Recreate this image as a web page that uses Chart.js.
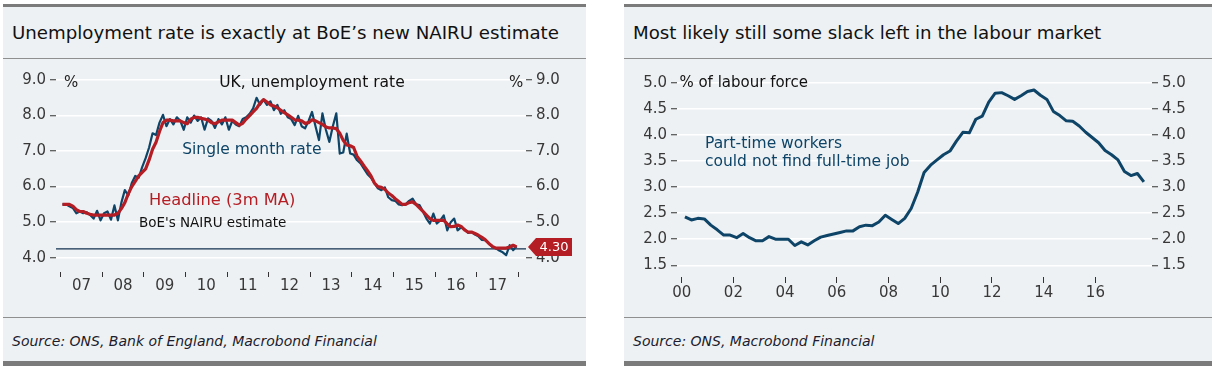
<!DOCTYPE html>
<html>
<head>
<meta charset="utf-8">
<script src="https://cdn.jsdelivr.net/npm/chart.js@4"></script>
<style>
  body { margin: 0; width: 1212px; height: 366px; background: #fff; position: relative; overflow: hidden; font-family: "DejaVu Sans", sans-serif; }
  .panel { position: absolute; top: 4px; height: 362px; background: #eef1f3; }
  .topbar { position: absolute; left: 0; right: 0; top: 0; height: 3px; background: #7b7b7b; }
  .bottombar { position: absolute; left: 0; right: 0; bottom: 0; height: 5px; background: #7b7b7b; }
  .rule { position: absolute; left: 0; right: 0; height: 1px; background: #8f8f8f; }
  .title { position: absolute; left: 9px; top: 19px; font-size: 18.2px; line-height: 20px; color: #111; white-space: nowrap; }
  .source { position: absolute; left: 9px; top: 329px; font-size: 14px; line-height: 16px; font-style: italic; color: #1c1c2c; white-space: nowrap; }
  canvas { position: absolute; left: 0; top: 55px; }
</style>
</head>
<body>
<div class="panel" style="left:3px;width:583px">
  <div class="topbar"></div>
  <div class="title">Unemployment rate is exactly at BoE’s new NAIRU estimate</div>
  <div class="rule" style="top:54px"></div>
  <canvas id="left-chart" width="583" height="258"></canvas>
  <div class="rule" style="top:313px"></div>
  <div class="source">Source: ONS, Bank of England, Macrobond Financial</div>
  <div class="bottombar"></div>
</div>
<div class="panel" style="left:624px;width:588px">
  <div class="topbar"></div>
  <div class="title">Most likely still some slack left in the labour market</div>
  <div class="rule" style="top:54px"></div>
  <canvas id="right-chart" width="588" height="258"></canvas>
  <div class="rule" style="top:313px"></div>
  <div class="source">Source: ONS, Macrobond Financial</div>
  <div class="bottombar"></div>
</div>
<script>
// left chart: monthly, Jan 2007 onwards
const leftFirstYear = 2007;
const leftYearLabels = ['07', '08', '09', '10', '11', '12', '13', '14', '15', '16', '17'];
const headlineRate = [
  5.5, 5.5, 5.5, 5.45, 5.35, 5.3, 5.3, 5.25, 5.22, 5.2, 5.2, 5.2,
  5.2, 5.2, 5.2, 5.2, 5.25, 5.38, 5.55, 5.8, 6.0, 6.15, 6.3, 6.4,
  6.5, 6.75, 7.05, 7.25, 7.55, 7.8, 7.87, 7.87, 7.85, 7.85, 7.85, 7.8,
  7.77, 7.9, 7.95, 7.95, 7.92, 7.9, 7.87, 7.8, 7.77, 7.82, 7.87, 7.87,
  7.87, 7.87, 7.8, 7.73, 7.78, 7.9, 8.0, 8.1, 8.2, 8.35, 8.45, 8.38,
  8.3, 8.27, 8.22, 8.15, 8.08, 8.02, 7.95, 7.88, 7.87, 7.85, 7.78, 7.8,
  7.88, 7.85, 7.8, 7.75, 7.68, 7.65, 7.65, 7.63, 7.5, 7.3, 7.17, 7.15,
  7.1, 6.85, 6.72, 6.58, 6.45, 6.3, 6.1, 6.0, 5.98, 5.92, 5.82, 5.75,
  5.66, 5.58, 5.5, 5.5, 5.55, 5.57, 5.5, 5.4, 5.3, 5.2, 5.1, 5.05,
  5.05, 5.05, 5.05, 4.95, 4.87, 4.88, 4.92, 4.88, 4.78, 4.72, 4.72, 4.68,
  4.63, 4.57, 4.5, 4.4, 4.32, 4.27, 4.27, 4.27, 4.27, 4.3, 4.35, 4.3
];
const singleMonthRate = [
  5.5, 5.5, 5.45, 5.4, 5.25, 5.3, 5.25, 5.28, 5.2, 5.1, 5.32, 5.05,
  5.25, 5.3, 5.07, 5.47, 5.05, 5.55, 5.9, 5.75, 6.1, 6.3, 6.25, 6.55,
  6.8, 7.1, 7.5, 7.45, 7.8, 8.02, 7.7, 7.9, 7.75, 7.95, 7.85, 7.6,
  7.95, 7.8, 8.0, 7.85, 7.95, 7.6, 7.92, 7.85, 7.65, 7.9, 7.75, 7.95,
  7.6, 7.85, 7.75, 7.7, 7.9, 7.95, 8.05, 8.2, 8.5, 8.3, 8.45, 8.3,
  8.4, 8.15, 8.3, 8.05, 8.15, 7.95, 7.9, 7.73, 7.99, 7.7, 7.64, 7.85,
  8.1, 7.7, 7.31, 8.06, 7.6, 7.26, 7.7, 8.06, 6.93, 6.96, 7.49, 6.93,
  6.9, 6.74, 6.65, 6.5, 6.35, 6.25, 6.1, 5.95, 5.9, 5.98, 5.7, 5.62,
  5.6, 5.5, 5.48, 5.5, 5.6, 5.66, 5.5, 5.48, 5.3, 5.1, 4.96, 5.24,
  4.96, 5.05, 5.19, 4.77, 5.0, 5.1, 4.77, 4.85, 4.8, 4.7, 4.72, 4.65,
  4.6, 4.5, 4.49, 4.4, 4.3, 4.27, 4.2, 4.15, 4.07, 4.35, 4.21, 4.32
];
const nairuEstimate = 4.25;
const leftTickValues = [4, 4.5, 5, 5.5, 6, 6.5, 7, 7.5, 8, 8.5, 9];

// right chart: quarterly, 2000Q1 onwards
const rightFirstYear = 2000;
const rightYearLabels = ['00', '02', '04', '06', '08', '10', '12', '14', '16'];
const partTimeShare = [
  2.43, 2.37, 2.40, 2.39, 2.27, 2.18, 2.08, 2.08, 2.03, 2.11,
  2.03, 1.97, 1.97, 2.05, 2.0, 2.0, 2.0, 1.88, 1.95, 1.89,
  1.97, 2.04, 2.07, 2.1, 2.13, 2.16, 2.16, 2.24, 2.27, 2.26,
  2.33, 2.46, 2.38, 2.3, 2.4, 2.59, 2.9, 3.28, 3.42, 3.52,
  3.62, 3.69, 3.88, 4.05, 4.04, 4.3, 4.36, 4.63, 4.8, 4.81,
  4.75, 4.68, 4.75, 4.83, 4.86, 4.76, 4.68, 4.45, 4.37, 4.27,
  4.26, 4.17, 4.05, 3.95, 3.85, 3.7, 3.62, 3.52, 3.3, 3.22,
  3.26, 3.1
];
const rightTickValues = [1.5, 2, 2.5, 3, 3.5, 4, 4.5, 5];

const blue = '#0d4467';
const red = '#b51d24';
const tickText = '#383838';
const FONT = '"DejaVu Sans"';

Chart.defaults.font.family = FONT;

// free text and the last-value tag, placed through the chart's scales
const notesPlugin = {
  id: 'notes',
  afterDraw(chart, args, opts) {
    const ctx = chart.ctx;
    const x = chart.scales.x;
    const y = chart.scales.y;
    ctx.save();
    ctx.textBaseline = 'middle';
    (opts.items || []).forEach(n => {
      ctx.font = n.size + 'px ' + FONT;
      ctx.fillStyle = n.color;
      ctx.textAlign = n.align || 'left';
      ctx.fillText(n.text, x.getPixelForValue(n.x), y.getPixelForValue(n.y));
    });
    if (opts.tag) {
      const ty = y.getPixelForValue(opts.tag.value);
      const tip = chart.chartArea.right + 2;
      ctx.fillStyle = red;
      ctx.beginPath();
      ctx.moveTo(tip, ty);
      ctx.lineTo(tip + 8, ty - 9);
      ctx.lineTo(tip + 44, ty - 9);
      ctx.lineTo(tip + 44, ty + 9);
      ctx.lineTo(tip + 8, ty + 9);
      ctx.closePath();
      ctx.fill();
      ctx.fillStyle = '#fff';
      ctx.font = '13px ' + FONT;
      ctx.textAlign = 'center';
      ctx.fillText(opts.tag.value.toFixed(2), tip + 26, ty + 1);
    }
    ctx.restore();
  }
};

function yAxis(position, min, max, tickValues, labelFn, width) {
  return {
    type: 'linear',
    position: position,
    min: min,
    max: max,
    afterBuildTicks: s => { s.ticks = tickValues.map(v => ({ value: v })); },
    afterFit: s => { s.width = width; },
    border: { display: false },
    grid: {
      drawOnChartArea: position === 'left',
      color: '#ffffff',
      lineWidth: 1.5,
      tickColor: '#333',
      tickWidth: 1,
      tickLength: 6
    },
    ticks: { callback: labelFn, color: tickText, font: { size: 15 }, padding: 4 }
  };
}

function makeLeftChart() {
  const xMin = 2006.887, xMax = 2018.185;
  const yMin = 3.597, yMax = 9.0;
  const years = [];
  for (let yr = leftFirstYear; yr <= leftFirstYear + leftYearLabels.length; yr++) years.push(yr);
  const intLabel = v => Number.isInteger(v) ? v.toFixed(1) : '';
  const ctx = document.getElementById('left-chart').getContext('2d');
  new Chart(ctx, {
    type: 'line',
    data: {
      datasets: [
        {
          label: 'Headline (3m MA)',
          data: headlineRate.map((v, i) => ({ x: leftFirstYear + (i + 0.5) / 12, y: v })),
          borderColor: red,
          borderWidth: 3.2,
          borderJoinStyle: 'round',
          pointRadius: 0
        },
        {
          label: 'Single month rate',
          data: singleMonthRate.map((v, i) => ({ x: leftFirstYear + (i + 0.5) / 12, y: v })),
          borderColor: blue,
          borderWidth: 2.2,
          borderJoinStyle: 'round',
          pointRadius: 0
        },
        {
          label: "BoE's NAIRU estimate",
          data: [{ x: xMin, y: nairuEstimate }, { x: xMax, y: nairuEstimate }],
          borderColor: '#12304f',
          borderWidth: 1.2,
          pointRadius: 0
        }
      ]
    },
    options: {
      responsive: false,
      animation: false,
      devicePixelRatio: 1,
      layout: { padding: { top: 21, left: 0, right: 0, bottom: 0 } },
      plugins: {
        legend: { display: false },
        tooltip: { enabled: false },
        notes: {
          items: [
            { text: 'UK, unemployment rate', x: 2013.04, y: 8.92, size: 15.5, color: '#111', align: 'center' },
            { text: '%', x: 2007.08, y: 8.92, size: 15, color: '#222' },
            { text: '%', x: 2018.12, y: 8.92, size: 15, color: '#222', align: 'right' },
            { text: 'Single month rate', x: 2009.92, y: 7.02, size: 15.5, color: blue },
            { text: 'Headline (3m MA)', x: 2009.12, y: 5.6, size: 16.3, color: red },
            { text: "BoE's NAIRU estimate", x: 2008.88, y: 4.95, size: 13.5, color: '#111' }
          ],
          tag: { value: headlineRate[headlineRate.length - 1] }
        }
      },
      scales: {
        x: {
          type: 'linear',
          min: xMin,
          max: xMax,
          afterBuildTicks: s => { s.ticks = years.map(v => ({ value: v })); },
          afterFit: s => { s.height = 45; },
          border: { display: false },
          grid: { drawOnChartArea: false, tickColor: '#333', tickWidth: 1, tickLength: 5 },
          ticks: {
            callback: v => leftYearLabels[Math.round(v) - leftFirstYear] || '',
            labelOffset: 20.8,
            maxRotation: 0,
            autoSkip: false,
            color: tickText,
            font: { size: 15 },
            padding: 0
          }
        },
        y: yAxis('left', yMin, yMax, leftTickValues, intLabel, 53),
        y2: yAxis('right', yMin, yMax, leftTickValues, intLabel, 60)
      }
    },
    plugins: [notesPlugin]
  });
}

function makeRightChart() {
  const xMin = 1999.818, xMax = 2018.19;
  const yMin = 1.276, yMax = 5.052;
  const years = rightYearLabels.map((l, i) => rightFirstYear + i * 2);
  const label = v => v.toFixed(1);
  const ctx = document.getElementById('right-chart').getContext('2d');
  new Chart(ctx, {
    type: 'line',
    data: {
      datasets: [{
        label: 'Part-time workers could not find full-time job',
        data: partTimeShare.map((v, i) => ({ x: rightFirstYear + (i + 0.5) / 4, y: v })),
        borderColor: blue,
        borderWidth: 3,
        borderJoinStyle: 'round',
        pointRadius: 0
      }]
    },
    options: {
      responsive: false,
      animation: false,
      devicePixelRatio: 1,
      layout: { padding: { top: 21, left: 0, right: 0, bottom: 0 } },
      plugins: {
        legend: { display: false },
        tooltip: { enabled: false },
        notes: {
          items: [
            { text: '% of labour force', x: 1999.91, y: 4.985, size: 15, color: '#111' },
            { text: 'Part-time workers', x: 2000.9, y: 3.825, size: 15.5, color: blue },
            { text: 'could not find full-time job', x: 2000.9, y: 3.48, size: 15.5, color: blue }
          ]
        }
      },
      scales: {
        x: {
          type: 'linear',
          min: xMin,
          max: xMax,
          afterBuildTicks: s => { s.ticks = years.map(v => ({ value: v })); },
          afterFit: s => { s.height = 40; },
          border: { display: false },
          grid: { drawOnChartArea: false, tickColor: '#333', tickWidth: 1, tickLength: 6 },
          ticks: {
            callback: v => rightYearLabels[Math.round((v - rightFirstYear) / 2)] || '',
            maxRotation: 0,
            autoSkip: false,
            color: tickText,
            font: { size: 15 },
            padding: 1
          }
        },
        y: yAxis('left', yMin, yMax, rightTickValues, label, 53),
        y2: yAxis('right', yMin, yMax, rightTickValues, label, 60)
      }
    },
    plugins: [notesPlugin]
  });
}

makeLeftChart();
makeRightChart();
</script>
</body>
</html>
